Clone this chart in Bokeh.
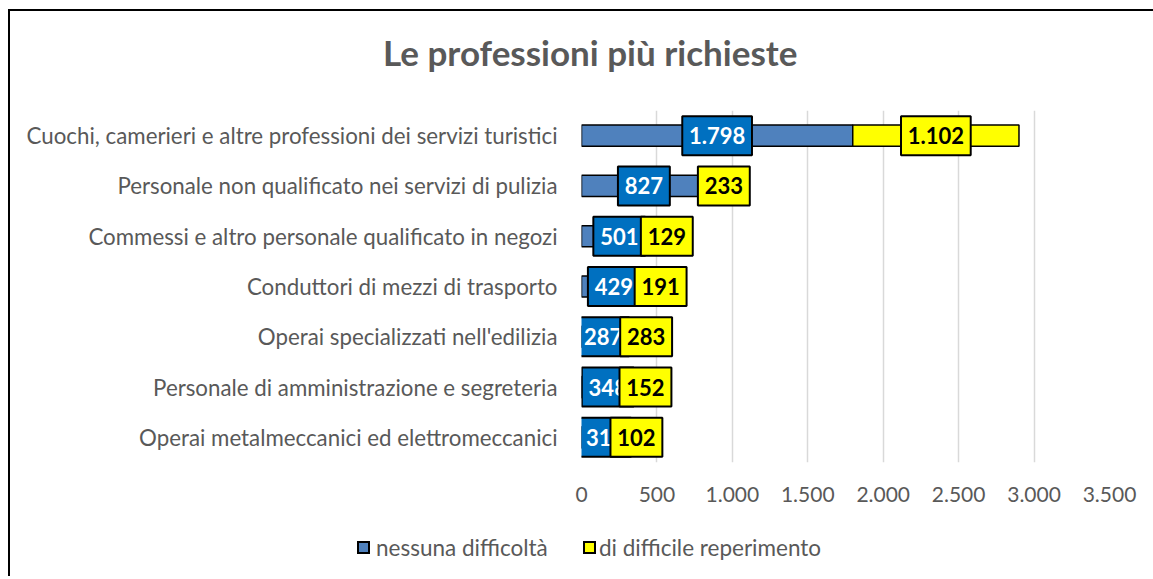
from bokeh.plotting import figure
from bokeh.models import (ColumnDataSource, FactorRange, Range1d, FixedTicker, Div)
from bokeh.layouts import column
from bokeh.core.properties import value
from bokeh.embed import file_html
from bokeh.resources import INLINE

# ---- data ----
categories = [
    "Cuochi, camerieri e altre professioni dei servizi turistici",
    "Personale non qualificato nei servizi di pulizia",
    "Commessi e altro personale qualificato in negozi",
    "Conduttori di mezzi di trasporto",
    "Operai specializzati nell'edilizia",
    "Personale di amministrazione e segreteria",
    "Operai metalmeccanici ed elettromeccanici",
]
nessuna_difficolta = [1798, 827, 501, 429, 287, 348, 313]
difficile_reperimento = [1102, 233, 129, 191, 283, 152, 102]
series_names = ["nessuna difficoltà", "di difficile reperimento"]
x_ticks = [0, 500, 1000, 1500, 2000, 2500, 3000, 3500]
title_text = "Le professioni più richieste"

BLUE_BAR = "#4F81BD"
YELLOW = "#FFFF00"


def it_fmt(v):
    return f"{v:,}".replace(",", ".")


def box_w(s):
    # label box width in screen pixels (text width + padding)
    return 15 + sum(12.3 if ch.isdigit() else 5.5 for ch in s)


t1 = [it_fmt(v) for v in nessuna_difficolta]
t2 = [it_fmt(v) for v in difficile_reperimento]

src = ColumnDataSource(dict(
    cat=categories,
    b0=[0] * len(categories),
    b1=nessuna_difficolta,
    b2=[a + b for a, b in zip(nessuna_difficolta, difficile_reperimento)],
    c1=[v / 2 for v in nessuna_difficolta],
    c2=[a + b / 2 for a, b in zip(nessuna_difficolta, difficile_reperimento)],
    t1=t1, t2=t2,
    w1=[box_w(s) for s in t1],
    w2=[box_w(s) for s in t2],
))

FONT = "Lato"
GREY = "#595959"

# ---- title strip (HTML) ----
title_html = (
    f'<div style="position:relative;width:1143px;height:99px;">'
    f'<div style="position:absolute;left:373px;top:20px;line-height:42px;white-space:nowrap;'
    f'font-family:Lato;font-weight:bold;font-size:35px;color:{GREY};">{title_text}</div>'
    f'</div>'
)
tdiv = Div(text=title_html, width=1143, height=99, margin=(0, 0, 0, 0))

# ---- main chart ----
p = figure(
    width=1143, height=410,
    y_range=FactorRange(factors=list(reversed(categories)), range_padding=0),
    x_range=Range1d(0, 3500),
    output_backend="svg", toolbar_location=None,
    min_border_left=571, min_border_right=44, min_border_top=0, min_border_bottom=58,
)
p.outline_line_color = None
p.background_fill_color = "white"
p.border_fill_color = "white"

p.hbar(y="cat", left="b0", right="b1", height=0.42, source=src,
       fill_color=BLUE_BAR, line_color="black", line_width=1.5)
p.hbar(y="cat", left="b1", right="b2", height=0.42, source=src,
       fill_color=YELLOW, line_color="black", line_width=1.5)

# grid / axes
p.ygrid.grid_line_color = None
p.xgrid.grid_line_color = "#D9D9D9"
p.xgrid.grid_line_width = 1.5
p.xaxis.ticker = FixedTicker(ticks=x_ticks)
p.xaxis.major_label_overrides = {t: it_fmt(t) for t in x_ticks}

for ax in (p.xaxis, p.yaxis):
    ax.axis_line_color = None
    ax.major_tick_line_color = None
    ax.minor_tick_line_color = None
    ax.major_tick_out = 0
    ax.major_tick_in = 0
    ax.major_label_text_font = FONT
    ax.major_label_text_color = GREY
p.xaxis.major_label_text_font_size = "21px"
p.yaxis.major_label_text_font_size = "22.3px"
p.xaxis.major_label_standoff = 24
p.yaxis.major_label_standoff = 24

# data labels: boxes + text
p.rect(x="c1", y="cat", width="w1", height=39, width_units="screen", height_units="screen",
       source=src, fill_color="#0070C0", line_color="black", line_width=2)
p.text(x="c1", y="cat", text="t1", source=src, text_align="center", text_baseline="middle",
       text_font=value(FONT), text_font_style="bold", text_font_size="22px", text_color="white")
p.rect(x="c2", y="cat", width="w2", height=39, width_units="screen", height_units="screen",
       source=src, fill_color=YELLOW, line_color="black", line_width=2)
p.text(x="c2", y="cat", text="t2", source=src, text_align="center", text_baseline="middle",
       text_font=value(FONT), text_font_style="bold", text_font_size="22px", text_color="black")


# ---- legend strip (HTML) ----
def key(left, color):
    return (f'<div style="position:absolute;box-sizing:border-box;left:{left}px;top:21px;'
            f'width:13px;height:13px;background:{color};border:2px solid #000000;"></div>')


def lab(left, text):
    return (f'<div style="position:absolute;left:{left}px;top:14px;line-height:28px;'
            f'white-space:nowrap;">{text}</div>')


legend_html = (
    f'<div style="position:relative;width:1143px;height:56px;font-family:Lato;'
    f'font-size:22.5px;color:{GREY};">'
    + key(347, BLUE_BAR) + lab(366, series_names[0])
    + key(573, YELLOW) + lab(589, series_names[1])
    + '</div>'
)
lg = Div(text=legend_html, width=1143, height=56, margin=(0, 0, 0, 0))

layout = column(tdiv, p, lg, spacing=0)
layout.margin = (9, 0, 0, 8)
layout.styles = {"border-left": "2px solid #000000", "border-top": "2px solid #000000"}

open("out.html", "w").write(file_html(layout, INLINE))
